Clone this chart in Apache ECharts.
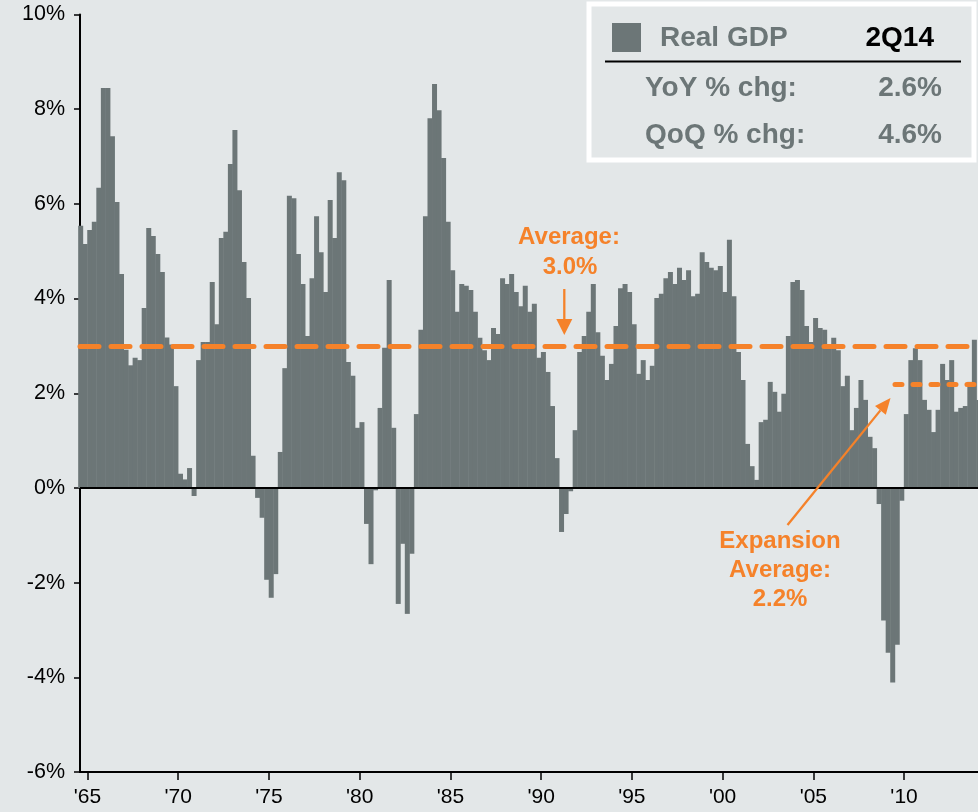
<!DOCTYPE html>
<html>
<head>
<meta charset="utf-8">
<script src="https://cdn.jsdelivr.net/npm/echarts@6/dist/echarts.min.js"></script>
<style>
html,body{margin:0;padding:0;background:#E3E7E8;}
#chart{width:978px;height:812px;}
</style>
</head>
<body>
<div id="chart"></div>
<script>
// ---------- data ----------
// quarters from 1964Q3 to 2014Q2
const firstYear = 1964, firstQuarter = 3;
const gdpYoY = [
  5.54, 5.15, 5.45, 5.62, 6.34, 8.45, 8.45, 7.43, 6.04, 4.52, 2.92, 2.59,
  2.75, 2.70, 3.80, 5.49, 5.32, 4.94, 4.56, 3.18, 3.03, 2.15,
  0.30, 0.18, 0.42, -0.17, 2.70, 3.08, 3.08, 4.35, 3.46, 5.28,
  5.41, 6.84, 7.56, 6.29, 4.77, 4.01, 0.68, -0.21, -0.63, -1.94,
  -2.32, -1.82, 0.76, 2.53, 6.17, 6.12, 4.94, 4.31, 3.21, 4.43,
  5.74, 4.98, 4.14, 6.08, 5.28, 6.67, 6.50, 2.66, 2.37, 1.27,
  1.39, -0.76, -1.61, -0.05, 1.69, 2.96, 4.39, 1.27, -2.45, -1.18,
  -2.66, -1.39, 1.56, 3.34, 5.74, 7.81, 8.53, 7.98, 6.97, 5.62,
  4.60, 3.72, 4.31, 4.27, 4.18, 3.72, 3.17, 2.91, 2.70, 3.38,
  3.25, 4.43, 4.31, 4.52, 4.14, 3.84, 4.27, 3.72, 3.89, 2.75,
  2.87, 2.45, 1.73, 0.63, -0.93, -0.55, -0.07, 1.22, 2.87, 3.21,
  3.72, 4.31, 3.29, 2.79, 2.28, 2.62, 3.42, 4.22, 4.31, 4.14,
  3.46, 2.41, 2.70, 2.28, 2.58, 4.01, 4.10, 4.43, 4.56, 4.31,
  4.65, 4.39, 4.60, 4.05, 4.10, 4.98, 4.77, 4.65, 4.60, 4.69,
  4.14, 5.24, 4.05, 2.87, 2.28, 0.93, 0.46, 0.17, 1.39, 1.44,
  2.24, 2.03, 1.61, 1.99, 3.21, 4.35, 4.39, 4.18, 3.42, 3.08,
  3.59, 3.38, 3.34, 3.00, 3.17, 2.91, 2.15, 2.37, 1.22, 1.69,
  2.28, 1.86, 1.08, 0.84, -0.34, -2.80, -3.48, -4.11, -3.31, -0.27,
  1.56, 2.70, 2.95, 2.70, 1.86, 1.65, 1.18, 1.65, 2.62, 2.28,
  2.70, 1.61, 1.69, 1.73, 2.24, 3.13, 1.86, 2.60
];
const quarters = gdpYoY.map((_, i) => {
  const q0 = (firstQuarter - 1) + i;
  return (firstYear + Math.floor(q0 / 4)) + 'Q' + (q0 % 4 + 1);
});
const xTickYears = [1965, 1970, 1975, 1980, 1985, 1990, 1995, 2000, 2005, 2010];
const yTicks = [-6, -4, -2, 0, 2, 4, 6, 8, 10];
const AVERAGE = 3.0;
const EXPANSION_AVERAGE = 2.2;
const EXPANSION_START = '2009Q3';
const latestLabel = '2Q14';
const latestYoY = '2.6%';
const latestQoQ = '4.6%';

// ---------- helpers ----------
// x position: quarters since 1965Q1 (start of the quarter)
function qIndex(label) {
  const y = parseInt(label.slice(0, 4), 10), q = parseInt(label.slice(5), 10);
  return (y - 1965) * 4 + (q - 1);
}
const barData = quarters.map((qs, i) => [qIndex(qs) + 0.5, gdpYoY[i]]);
const X_MIN = -1.65, X_MAX = 196.3;

const BAR = '#6C7677';
const ORANGE = '#F5822A';
const FONT = '"Liberation Sans", Arial, Helvetica, sans-serif';

const chart = echarts.init(document.getElementById('chart'), null, {renderer: 'canvas'});

const option = {
  backgroundColor: '#E3E7E8',
  animation: false,
  grid: {left: 80, right: 0, top: 14.5, bottom: 40, containLabel: false},
  xAxis: {
    type: 'value',
    min: X_MIN,
    max: X_MAX,
    splitLine: {show: false},
    axisLine: {onZero: false, lineStyle: {color: '#000', width: 2}},
    axisTick: {
      show: true, inside: false, length: 8,
      customValues: xTickYears.map(y => (y - 1965) * 4),
      lineStyle: {color: '#000', width: 1.5}
    },
    axisLabel: {
      customValues: xTickYears.map(y => (y - 1965) * 4),
      formatter: v => "'" + String(1965 + Math.round(v / 4)).slice(2),
      color: '#000', fontSize: 21, fontFamily: FONT, margin: 15
    }
  },
  yAxis: {
    type: 'value',
    min: yTicks[0],
    max: yTicks[yTicks.length - 1],
    interval: 2,
    splitLine: {show: false},
    axisLine: {show: true, onZero: false, lineStyle: {color: '#000', width: 2}},
    axisTick: {show: true, length: 6, lineStyle: {color: '#000', width: 1.5}},
    axisLabel: {
      formatter: '{value}%', color: '#000', fontSize: 21.5, fontFamily: FONT, margin: 15
    }
  },
  series: [{
    type: 'bar',
    data: barData,
    barWidth: 5,
    clip: true,
    itemStyle: {color: BAR},
    markLine: {
      silent: true,
      symbol: 'none',
      label: {show: false},
      z: 10,
      data: [
        {yAxis: 0, lineStyle: {color: '#000', width: 2, type: 'solid'}},
        {yAxis: AVERAGE, lineStyle: {color: ORANGE, width: 5, type: [19, 12], cap: 'round', opacity: 1}},
        [
          {coord: [qIndex(EXPANSION_START), EXPANSION_AVERAGE], lineStyle: {color: ORANGE, width: 5, type: [7, 11], cap: 'round', opacity: 1}},
          {coord: [X_MAX, EXPANSION_AVERAGE]}
        ]
      ]
    }
  }],
  graphic: [
    // legend / info box
    {type: 'rect', shape: {x: 589, y: 4, width: 385, height: 156},
     style: {fill: 'none', stroke: '#fff', lineWidth: 5}, z: 20},
    {type: 'rect', shape: {x: 612, y: 23, width: 29, height: 29}, style: {fill: BAR}, z: 20},
    {type: 'text', z: 20, style: {text: 'Real GDP', x: 660, y: 38, fill: BAR,
      font: 'bold 28px ' + FONT, textAlign: 'left', textVerticalAlign: 'middle'}},
    {type: 'text', z: 20, style: {text: latestLabel, x: 934, y: 38, fill: '#000',
      font: 'bold 28px ' + FONT, textAlign: 'right', textVerticalAlign: 'middle'}},
    {type: 'line', z: 20, shape: {x1: 605, y1: 61.5, x2: 961, y2: 61.5}, style: {stroke: '#000', lineWidth: 2}},
    {type: 'text', z: 20, style: {text: 'YoY % chg:', x: 645, y: 88, fill: BAR,
      font: 'bold 28px ' + FONT, textAlign: 'left', textVerticalAlign: 'middle'}},
    {type: 'text', z: 20, style: {text: latestYoY, x: 942, y: 88, fill: BAR,
      font: 'bold 28px ' + FONT, textAlign: 'right', textVerticalAlign: 'middle'}},
    {type: 'text', z: 20, style: {text: 'QoQ % chg:', x: 645, y: 135, fill: BAR,
      font: 'bold 28px ' + FONT, textAlign: 'left', textVerticalAlign: 'middle'}},
    {type: 'text', z: 20, style: {text: latestQoQ, x: 942, y: 135, fill: BAR,
      font: 'bold 28px ' + FONT, textAlign: 'right', textVerticalAlign: 'middle'}},
    // Average annotation
    {type: 'text', z: 20, style: {text: 'Average:', x: 569, y: 237, fill: ORANGE,
      font: 'bold 24px ' + FONT, textAlign: 'center', textVerticalAlign: 'middle'}},
    {type: 'text', z: 20, style: {text: AVERAGE.toFixed(1) + '%', x: 570, y: 267, fill: ORANGE,
      font: 'bold 24px ' + FONT, textAlign: 'center', textVerticalAlign: 'middle'}},
    {type: 'line', z: 20, shape: {x1: 564.3, y1: 289, x2: 564.3, y2: 322}, style: {stroke: ORANGE, lineWidth: 2.3}},
    {type: 'polygon', z: 20, shape: {points: [[556.3, 319], [572.3, 319], [564.3, 335]]}, style: {fill: ORANGE}},
    // Expansion average annotation
    {type: 'text', z: 20, style: {text: 'Expansion', x: 780, y: 541, fill: ORANGE,
      font: 'bold 24px ' + FONT, textAlign: 'center', textVerticalAlign: 'middle'}},
    {type: 'text', z: 20, style: {text: 'Average:', x: 780, y: 570, fill: ORANGE,
      font: 'bold 24px ' + FONT, textAlign: 'center', textVerticalAlign: 'middle'}},
    {type: 'text', z: 20, style: {text: EXPANSION_AVERAGE.toFixed(1) + '%', x: 780, y: 599, fill: ORANGE,
      font: 'bold 24px ' + FONT, textAlign: 'center', textVerticalAlign: 'middle'}},
    {type: 'line', z: 20, shape: {x1: 787.5, y1: 525, x2: 880.4, y2: 410.4}, style: {stroke: ORANGE, lineWidth: 2.3}},
    {type: 'polygon', z: 20, shape: {points: [[890.5, 398], [885.8, 414.8], [875.0, 406.0]]}, style: {fill: ORANGE}}
  ]
};
chart.setOption(option);
</script>
</body>
</html>
